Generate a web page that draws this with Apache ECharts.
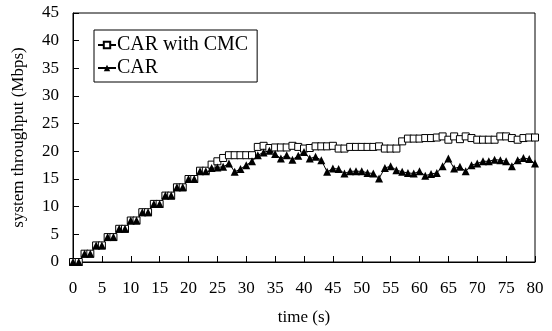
<!DOCTYPE html>
<html>
<head>
<meta charset="utf-8">
<script src="https://cdn.jsdelivr.net/npm/echarts@6/dist/echarts.min.js"></script>
<style>
  html, body { margin: 0; padding: 0; background: #fff; }
  #main { width: 552px; height: 331px; }
</style>
</head>
<body>
<div id="main"></div>
<script>
// time in seconds, one sample per second
var time = [];
for (var i = 0; i <= 80; i++) time.push(i);

var carCmc = [
  0, 0, 1.5, 1.5, 3, 3, 4.5, 4.5, 6, 6,
  7.5, 7.5, 9, 9, 10.5, 10.5, 12, 12, 13.5, 13.5,
  15, 15, 16.5, 16.5, 17.6, 18.2, 18.8, 19.3, 19.3, 19.3,
  19.3, 19.3, 20.8, 21.0, 20.6, 20.7, 20.7, 20.7, 21.0, 20.8,
  20.5, 20.6, 20.9, 20.9, 20.9, 21.0, 20.5, 20.5, 20.8, 20.8,
  20.8, 20.8, 20.8, 20.9, 20.5, 20.5, 20.5, 21.8, 22.3, 22.3,
  22.3, 22.4, 22.4, 22.5, 22.7, 22.1, 22.7, 22.2, 22.7, 22.4,
  22.1, 22.1, 22.1, 22.1, 22.7, 22.7, 22.4, 22.1, 22.4, 22.5,
  22.5
];
var car = [
  0, 0, 1.5, 1.5, 3, 3, 4.5, 4.5, 6, 6,
  7.5, 7.5, 9, 9, 10.5, 10.5, 12, 12, 13.5, 13.5,
  15, 15, 16.4, 16.4, 17.0, 17.1, 17.2, 17.8, 16.3, 16.8,
  17.5, 18.2, 19.3, 19.8, 20.1, 19.5, 18.7, 19.3, 18.5, 19.2,
  19.9, 18.7, 19.0, 18.4, 16.3, 16.9, 16.8, 16.0, 16.4, 16.4,
  16.4, 16.1, 16.0, 15.1, 17.0, 17.3, 16.6, 16.3, 16.1, 16.0,
  16.4, 15.6, 15.9, 16.1, 17.3, 18.7, 16.9, 17.2, 16.4, 17.5,
  17.8, 18.2, 18.2, 18.5, 18.4, 18.2, 17.3, 18.4, 18.8, 18.6,
  17.8
];

function pairs(ys) {
  return time.map(function (t, i) { return [t, ys[i]]; });
}

var font = "'Liberation Serif', 'Times New Roman', serif";
var chart = echarts.init(document.getElementById("main"));

chart.setOption({
  animation: false,
  backgroundColor: "#fff",
  textStyle: { fontFamily: font, color: "#000" },
  grid: {
    left: 73,
    right: 17,
    top: 13,
    bottom: 68,
    show: true,
    borderColor: "#000",
    borderWidth: 1
  },
  legend: {
    orient: "vertical",
    left: 94,
    top: 30,
    padding: [5, 9, 4, 3],
    itemGap: 3,
    itemWidth: 18,
    itemHeight: 8,
    borderColor: "#000",
    borderWidth: 1,
    backgroundColor: "#fff",
    textStyle: { fontFamily: font, fontSize: 20, color: "#000", padding: [0, 0, 0, -4] },
    data: ["CAR with CMC", "CAR"]
  },
  xAxis: {
    type: "value",
    min: 0,
    max: 80,
    interval: 5,
    name: "time (s)",
    nameLocation: "middle",
    nameGap: 47,
    nameTextStyle: { fontFamily: font, fontSize: 17, color: "#000" },
    axisLine: { lineStyle: { color: "#000", width: 1 } },
    axisTick: { inside: true, length: 6, lineStyle: { color: "#000" } },
    axisLabel: { fontFamily: font, fontSize: 17, color: "#000", margin: 18 },
    splitLine: { show: false }
  },
  yAxis: {
    type: "value",
    min: 0,
    max: 45,
    interval: 5,
    name: "system throughput (Mbps)",
    nameLocation: "middle",
    nameGap: 46,
    nameTextStyle: { fontFamily: font, fontSize: 17, color: "#000" },
    axisLine: { show: true, lineStyle: { color: "#000", width: 1 } },
    axisTick: { show: true, inside: true, length: 6, lineStyle: { color: "#000" } },
    axisLabel: { fontFamily: font, fontSize: 17, color: "#000", margin: 14 },
    splitLine: { show: false }
  },
  series: [
    {
      name: "CAR with CMC",
      type: "line",
      data: pairs(carCmc),
      symbol: "rect",
      symbolSize: 7,
      showAllSymbol: true,
      lineStyle: { color: "#000", width: 1 },
      itemStyle: { color: "#fff", borderColor: "#000", borderWidth: 1 }
    },
    {
      name: "CAR",
      type: "line",
      data: pairs(car),
      symbol: "triangle",
      symbolSize: 8,
      showAllSymbol: true,
      lineStyle: { color: "#000", width: 1 },
      itemStyle: { color: "#000", borderColor: "#000", borderWidth: 0 }
    }
  ]
});
</script>
</body>
</html>
